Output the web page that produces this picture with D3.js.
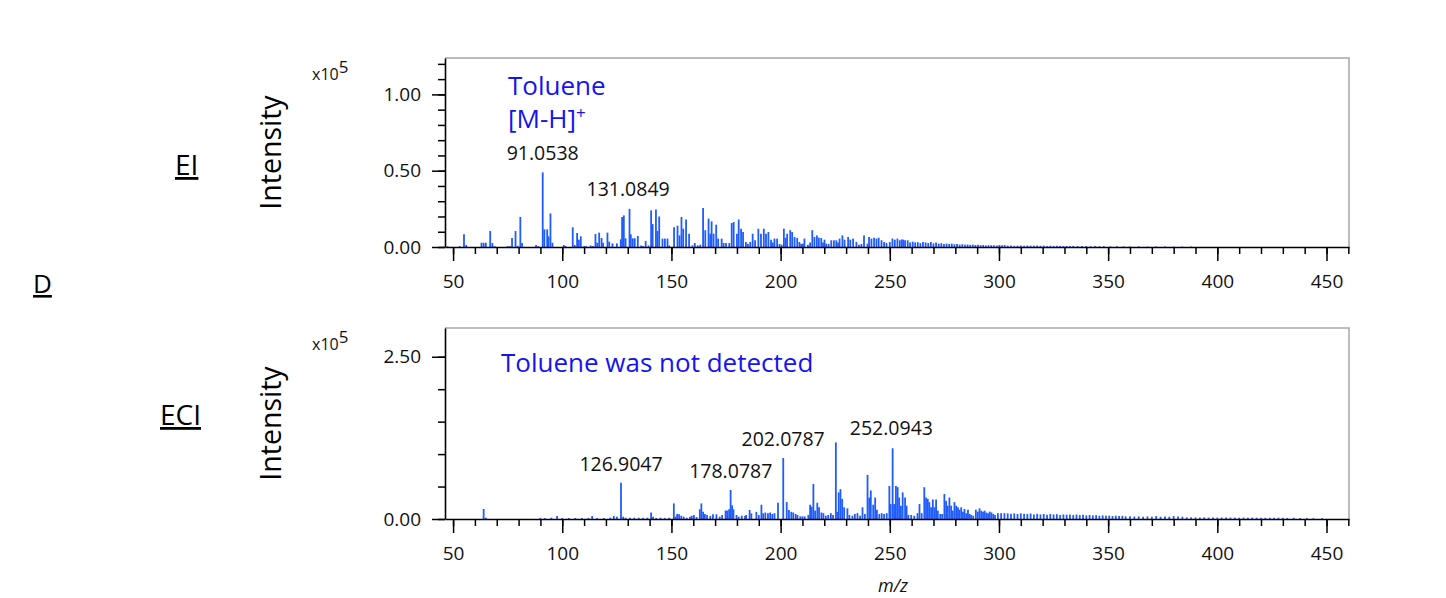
<!DOCTYPE html>
<html><head><meta charset="utf-8">
<script src="https://cdn.jsdelivr.net/npm/d3@7"></script>
<style>
html,body{margin:0;padding:0;background:#fff;}
svg text{font-family:"Open Sans","Noto Sans",sans-serif;}
</style></head>
<body><svg id="c" width="1446" height="598"></svg>
<script>
// ---------------- DATA ----------------
const xTickLabels = [50,100,150,200,250,300,350,400,450];
const eiYTickLabels = ["0.00","0.50","1.00"];
const eciYTickLabels = ["0.00","2.50"];

// EI spectrum (m/z, intensity x10^5)
const eiMz = [47.5,53,55,56,63,64,65,67,68,69,75,76,77,78.6,79.6,80.8,81.6,88,89,91.05,91.8,93.1,93.7,94.6,95.5,100.7,101.5,104.8,105.7,106.8,107.6,108.5,110,111,113,114,115.2,116,116.9,118,118.7,120.7,121.5,123,125,126.8,127.4,128.2,129,130.8,131.4,132.3,133.2,134.6,136.1,137,138.2,139.5,140.7,141.4,142.9,143.6,144.4,145.9,147,148.2,149,151.2,152.8,153.7,154.6,155.4,156.7,158.1,159.6,160.7,162,163.2,164.5,165.5,167,167.8,168.4,169.3,170.5,171.4,173,173.9,175,176.5,177.6,178.5,180,180.8,181.9,182.8,184.1,185,186.1,187.2,188.3,189.8,191,192.3,193.3,194.4,195.6,196.4,197.2,198.4,199.5,200.5,201.5,202.3,203,204.4,205.3,206.4,207.6,208.6,209.4,210.2,210.9,212.5,213.5,214.5,215.5,216.6,217.5,218.6,219.4,220.1,220.9,222,223.2,224.4,225.5,226.3,227,228.3,229.3,230.9,231.9,233.2,234.7,235.9,237,238.2,239.8,240.5,241.6,242.8,243.9,244.9,246.2,247.4,248.5,250,251.2,252.3,253.5,254.6,255.5,256.2,257,258.2,259.3,260.5,261.6,262.8,264,265.2,266.4,267.6,268.8,270,271.2,272.4,273.6,274.8,276,277.2,278.4,279.6,280.8,282,283.2,284.4,285.6,286.8,288,289.2,290.4,291.6,292.8,294,295.2,296.4,297.6,299,300.2,301.4,302.6,304,305.5,307,308.5,310,311.5,313,314.5,316,317.5,319,320.5,322,323.5,325,326.5,328,329.5,331,332.5,334,336,338,340,342,344,346,348,351,354,357,360,364,368,372,376,380,384,388];
const eiInt = [0.005,0.006,0.083,0.013,0.028,0.028,0.028,0.105,0.026,0.006,0.006,0.006,0.059,0.105,0.008,0.197,0.026,0.013,0.006,0.489,0.116,0.116,0.07,0.22,0.028,0.013,0.006,0.129,0.013,0.092,0.048,0.07,0.006,0.006,0.01,0.006,0.085,0.028,0.094,0.059,0.028,0.094,0.035,0.024,0.024,0.05,0.197,0.207,0.057,0.25,0.083,0.057,0.057,0.072,0.01,0.006,0.04,0.01,0.24,0.15,0.245,0.105,0.2,0.055,0.055,0.055,0.01,0.13,0.14,0.076,0.197,0.12,0.18,0.087,0.011,0.026,0.01,0.015,0.255,0.11,0.186,0.087,0.168,0.087,0.146,0.055,0.055,0.026,0.026,0.026,0.157,0.164,0.087,0.18,0.12,0.098,0.033,0.02,0.033,0.087,0.044,0.12,0.087,0.12,0.087,0.098,0.048,0.03,0.055,0.055,0.02,0.015,0.12,0.06,0.087,0.11,0.098,0.066,0.059,0.033,0.02,0.022,0.055,0.015,0.03,0.11,0.066,0.076,0.061,0.059,0.03,0.048,0.022,0.02,0.044,0.044,0.044,0.03,0.055,0.076,0.048,0.066,0.048,0.055,0.033,0.015,0.02,0.076,0.022,0.066,0.055,0.061,0.055,0.061,0.044,0.033,0.026,0.033,0.055,0.048,0.055,0.044,0.05,0.048,0.044,0.044,0.03,0.035,0.03,0.032,0.025,0.033,0.03,0.026,0.033,0.024,0.03,0.022,0.025,0.02,0.022,0.02,0.022,0.018,0.02,0.016,0.018,0.015,0.016,0.014,0.016,0.013,0.014,0.012,0.013,0.01,0.012,0.011,0.012,0.01,0.013,0.012,0.013,0.009,0.01,0.008,0.009,0.01,0.008,0.01,0.009,0.008,0.01,0.008,0.009,0.007,0.008,0.007,0.008,0.007,0.006,0.007,0.006,0.007,0.006,0.007,0.006,0.005,0.006,0.005,0.005,0.004,0.005,0.004,0.004,0.004,0.003,0.004,0.003,0.003,0.003,0.003];

// ECI spectrum (m/z, intensity x10^5)
const eciMz = [64,65,90,92,95,97.6,100,103,106,109,112,113.7,116,119,122,123.6,125,126.9,127.9,129,131,133,135,137,139,140.7,141.6,143,145,147,149,151.1,151.8,152.6,153.5,154.5,155.6,157,158.5,159.3,160.3,161.5,163,163.7,164.5,165.3,166.3,167.8,169,170.6,172.1,173.2,174.8,175.5,176.4,177.1,177.8,178.4,179.8,180.8,182.2,183.7,184.2,185.8,186.6,188.9,190,191.2,192,193,194.2,195.2,196.2,197.2,198.8,201.2,202.8,203.8,204.9,205.8,206.9,207.7,209,210,211,212.7,213.5,214.2,215,215.8,216.8,217.6,218.7,219.6,220.7,221.8,223,224,225.3,226,226.6,227.4,228.2,229.1,230.6,231.5,232.9,234,235.2,236.4,237.5,238.6,239.8,240.6,241.3,242.4,243.3,244.1,245.2,246.3,247.4,248.6,249.8,250.4,251.3,252,252.8,253.6,254.3,255.1,255.9,257,257.7,258.5,259.8,261.2,262.7,263.6,264.6,265.8,266.6,267.4,268.1,268.9,269.7,270.5,271.2,272,273.1,274,275,275.8,276.5,277.3,278.1,278.8,279.6,280.4,281.2,281.9,282.7,283.5,284.2,285,285.8,286.6,287.3,288.2,289.4,290.3,291.1,291.9,292.7,293.4,294.2,295,295.8,296.6,297.4,298.2,299.5,301,302.5,304,305.5,307,308.5,310,311.5,313,314.5,316,317.5,319,320.5,322,323.5,325,326.5,328,329.5,331,332.5,334,335.5,337,338.5,340,341.5,343,344.5,346,347.5,349,350.5,352,353.5,355,356.5,358,360,362,364,366,368,370,372,374,376,378,380,382,384,386,388,390,392,394,396,398,400,402,404,406,408,410,412,414,416,418,420,422,424,426,428,430,432,435,438,441,444,448];
const eciInt = [0.154,0.02,0.015,0.015,0.02,0.046,0.015,0.015,0.015,0.015,0.015,0.046,0.015,0.015,0.02,0.046,0.036,0.56,0.036,0.02,0.02,0.02,0.02,0.02,0.02,0.1,0.036,0.015,0.02,0.015,0.02,0.24,0.036,0.077,0.072,0.05,0.036,0.02,0.036,0.05,0.062,0.03,0.15,0.24,0.11,0.077,0.062,0.046,0.072,0.072,0.036,0.062,0.13,0.13,0.15,0.447,0.21,0.15,0.062,0.036,0.05,0.046,0.062,0.14,0.087,0.11,0.062,0.22,0.087,0.1,0.087,0.1,0.077,0.09,0.25,0.94,0.26,0.14,0.11,0.1,0.077,0.062,0.04,0.04,0.04,0.062,0.22,0.19,0.54,0.13,0.25,0.18,0.1,0.09,0.05,0.062,0.09,0.062,1.18,0.11,0.41,0.46,0.31,0.18,0.165,0.062,0.05,0.077,0.09,0.05,0.18,0.077,0.68,0.33,0.44,0.22,0.33,0.144,0.077,0.09,0.077,0.09,0.51,0.23,1.09,0.23,0.51,0.49,0.33,0.205,0.41,0.33,0.205,0.062,0.062,0.05,0.09,0.23,0.09,0.49,0.33,0.31,0.26,0.18,0.3,0.18,0.3,0.13,0.077,0.077,0.385,0.28,0.205,0.33,0.205,0.13,0.26,0.205,0.18,0.144,0.18,0.113,0.154,0.09,0.144,0.077,0.062,0.05,0.144,0.113,0.164,0.128,0.113,0.128,0.1,0.09,0.113,0.1,0.077,0.062,0.09,0.09,0.09,0.087,0.08,0.087,0.077,0.087,0.08,0.077,0.085,0.07,0.08,0.07,0.077,0.065,0.077,0.07,0.075,0.062,0.07,0.065,0.07,0.06,0.068,0.06,0.065,0.055,0.062,0.055,0.06,0.05,0.055,0.05,0.052,0.045,0.05,0.045,0.048,0.04,0.042,0.038,0.04,0.035,0.04,0.035,0.045,0.035,0.04,0.035,0.045,0.04,0.035,0.025,0.025,0.025,0.022,0.025,0.022,0.025,0.022,0.022,0.025,0.022,0.022,0.02,0.022,0.02,0.022,0.02,0.02,0.018,0.02,0.018,0.02,0.018,0.015,0.018,0.015,0.015,0.013,0.012];

// peak annotations
const eiPeakLabels = ["91.0538","131.0849"];
const eiPeakMz = [91.05,131.08];
const eiPeakInt = [0.489,0.25];
const eciPeakLabels = ["126.9047","178.0787","202.0787","252.0943"];
const eciPeakMz = [126.9,178.08,202.08,252.09];
const eciPeakInt = [0.56,0.447,0.94,1.09];

// ---------------- DRAW ----------------
const svg = d3.select("#c");
const BAR = "#1f5cff", BLUE = "#1414f0";
const x = d3.scaleLinear().domain([46.3, 460.3]).range([445, 1349]);
const xMinor = d3.range(50, 461, 10);

function panel(opt){
  const y = d3.scaleLinear().domain([0, opt.ymax]).range([opt.yBot, opt.yTop]);
  const g = svg.append("g");
  g.append("path").attr("d", `M${x.range()[0]},${opt.yTop}H${x.range()[1]}V${opt.yBot}`)
    .attr("fill","none").attr("stroke","#a6a6a6").attr("stroke-width",1.5);
  g.selectAll("line.bar").data(opt.mz.map((m,i)=>({m, v:opt.val[i]}))).join("line")
    .attr("class","bar")
    .attr("x1", d=>x(d.m)).attr("x2", d=>x(d.m))
    .attr("y1", y(0)).attr("y2", d=>y(d.v))
    .attr("stroke", BAR).attr("stroke-width", 1.8);
  g.append("g").attr("transform",`translate(0,${opt.yBot})`)
    .call(d3.axisBottom(x).tickValues(xMinor).tickSize(7).tickFormat("").tickSizeOuter(0))
    .call(s=>{s.select(".domain").attr("stroke","#000").attr("stroke-width",1.6);
              s.selectAll(".tick line").attr("stroke","#000").attr("stroke-width",1.5);});
  g.append("g").attr("transform",`translate(0,${opt.yBot})`)
    .call(d3.axisBottom(x).tickValues(xTickLabels).tickSize(14).tickPadding(14).tickSizeOuter(0).tickFormat(d3.format("d")))
    .call(s=>{s.select(".domain").remove();
              s.selectAll(".tick line").attr("stroke","#000").attr("stroke-width",1.5);
              s.selectAll(".tick text").attr("font-size","19px").attr("fill","#111");});
  g.append("g").attr("transform",`translate(${x.range()[0]},0)`)
    .call(d3.axisLeft(y).tickValues(opt.yMinor).tickSize(7).tickFormat("").tickSizeOuter(0))
    .call(s=>{s.select(".domain").attr("stroke","#000").attr("stroke-width",1.6);
              s.selectAll(".tick line").attr("stroke","#000").attr("stroke-width",1.5);});
  g.append("g").attr("transform",`translate(${x.range()[0]},0)`)
    .call(d3.axisLeft(y).tickValues(opt.yLabels.map(Number)).tickSize(13).tickPadding(11).tickSizeOuter(0).tickFormat((d,i)=>opt.yLabels[i]))
    .call(s=>{s.select(".domain").remove();
              s.selectAll(".tick line").attr("stroke","#000").attr("stroke-width",1.5);
              s.selectAll(".tick text").attr("font-size","19px").attr("fill","#111");});
  const t = g.append("text").attr("x",312).attr("y",opt.yTop+22).attr("font-size","16px").attr("fill","#111");
  t.append("tspan").text("x10");
  t.append("tspan").attr("dy",-7).attr("font-size","17px").text("5");
  g.append("text").attr("transform",`translate(281,${(opt.yTop+opt.yBot)/2}) rotate(-90)`)
    .attr("text-anchor","middle").attr("font-size","28.5px").attr("fill","#000").text("Intensity");
  g.append("text").attr("x",opt.sideX).attr("y",opt.sideY).attr("font-size","28px")
    .attr("text-decoration","underline").attr("fill","#000").text(opt.side);
  g.selectAll("text.pk").data(opt.pkLabels).join("text").attr("class","pk")
    .attr("x",(d,i)=>x(opt.pkMz[i]) + opt.pkDx[i])
    .attr("y",(d,i)=>y(opt.pkInt[i]) - opt.pkDy[i])
    .attr("text-anchor","middle").attr("font-size","19.5px").attr("fill","#111").text(d=>d);
  return y;
}

panel({yTop:58, yBot:247, ymax:1.2385, yMinor:d3.range(0,1.21,0.1), yLabels:eiYTickLabels,
  mz:eiMz, val:eiInt, side:"EI", sideX:175, sideY:175,
  pkLabels:eiPeakLabels, pkMz:eiPeakMz, pkInt:eiPeakInt, pkDx:[0,-2], pkDy:[12,13]});
panel({yTop:328, yBot:519, ymax:2.943, yMinor:d3.range(0,2.91,0.5), yLabels:eciYTickLabels,
  mz:eciMz, val:eciInt, side:"ECI", sideX:160, sideY:425,
  pkLabels:eciPeakLabels, pkMz:eciPeakMz, pkInt:eciPeakInt, pkDx:[0,-2,-2,-3], pkDy:[12,12,12,13]});

svg.append("text").attr("x",508).attr("y",95).attr("font-size","26px").attr("fill",BLUE).text("Toluene");
const mh = svg.append("text").attr("x",508).attr("y",128).attr("font-size","26px").attr("fill",BLUE);
mh.append("tspan").text("[M-H]");
mh.append("tspan").attr("dy",-9).attr("font-size","17px").text("+");
svg.append("text").attr("x",501).attr("y",372).attr("font-size","26px").attr("fill",BLUE).text("Toluene was not detected");
svg.append("text").attr("x",33).attr("y",293).attr("font-size","26px").attr("text-decoration","underline").attr("fill","#000").text("D");
svg.append("text").attr("x",893).attr("y",592).attr("text-anchor","middle").attr("font-size","18px")
  .attr("font-style","italic").attr("fill","#111").text("m/z");
</script></body></html>
